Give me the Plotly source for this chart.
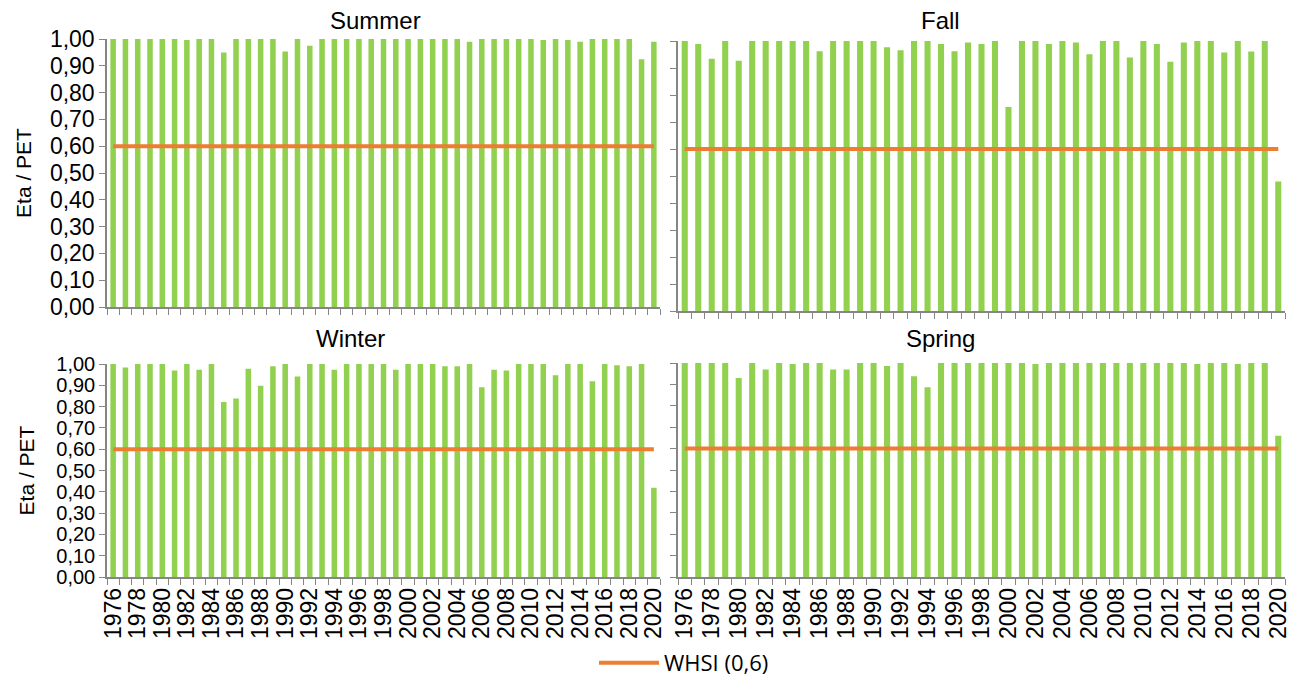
import plotly.graph_objects as go

# Seasonal Eta/PET ratio per year, 1976-2020
years = list(range(1976, 2021))

summer = [1.00, 1.00, 1.00, 1.00, 1.00, 1.00, 0.996, 1.00, 1.00, 0.95,
          1.00, 1.00, 1.00, 1.00, 0.953, 1.00, 0.975, 1.00, 1.00, 1.00,
          1.00, 1.00, 1.00, 1.00, 1.00, 1.00, 1.00, 1.00, 1.00, 0.99,
          1.00, 1.00, 1.00, 1.00, 1.00, 0.996, 1.00, 0.996, 0.99, 1.00,
          1.00, 1.00, 1.00, 0.924, 0.99]

fall = [1.00, 0.989, 0.934, 1.00, 0.927, 1.00, 1.00, 1.00, 1.00, 1.00,
        0.962, 1.00, 1.00, 1.00, 1.00, 0.977, 0.966, 1.00, 1.00, 0.989,
        0.962, 0.994, 0.989, 1.00, 0.756, 1.00, 1.00, 0.989, 1.00, 0.994,
        0.951, 1.00, 1.00, 0.939, 1.00, 0.989, 0.923, 0.994, 1.00, 1.00,
        0.957, 1.00, 0.961, 1.00, 0.48]

winter = [1.00, 0.984, 1.00, 1.00, 1.00, 0.969, 1.00, 0.973, 1.00, 0.822,
          0.838, 0.978, 0.898, 0.989, 1.00, 0.941, 1.00, 1.00, 0.973, 1.00,
          1.00, 1.00, 1.00, 0.973, 1.00, 1.00, 1.00, 0.989, 0.989, 1.00,
          0.891, 0.973, 0.969, 1.00, 1.00, 1.00, 0.947, 1.00, 1.00, 0.919,
          1.00, 0.994, 0.989, 1.00, 0.419]

spring = [1.00, 1.00, 1.00, 1.00, 0.93, 1.00, 0.97, 1.00, 0.995, 1.00,
          1.00, 0.97, 0.97, 1.00, 1.00, 0.986, 1.00, 0.938, 0.887, 1.00,
          1.00, 1.00, 1.00, 1.00, 1.00, 1.00, 0.995, 1.00, 1.00, 1.00,
          1.00, 1.00, 1.00, 1.00, 1.00, 1.00, 1.00, 1.00, 0.995, 1.00,
          1.00, 0.995, 1.00, 1.00, 0.66]

whsi = 0.6
whsi_label = "WHSI (0,6)"

seasons = ["Summer", "Fall", "Winter", "Spring"]
season_values = [summer, fall, winter, spring]

y_ticks = [0.0, 0.1, 0.2, 0.3, 0.4, 0.5, 0.6, 0.7, 0.8, 0.9, 1.0]
y_tick_labels = ["0,00", "0,10", "0,20", "0,30", "0,40", "0,50",
                 "0,60", "0,70", "0,80", "0,90", "1,00"]
x_tick_years = years[::2]
x_tick_labels = [str(y) for y in x_tick_years]

W, H = 1292, 680
BAR = "#92D050"
ORANGE = "#ED7D31"
AXIS = "#868686"
FONT = "Liberation Sans, Arial, sans-serif"

# panel boxes in pixels: (left, right, top, bottom)
panels = [(107, 660, 39, 307), (678, 1285, 41, 311),
          (107, 660, 364, 577), (678, 1285, 363, 577)]
title_pos = [(376, 20), (940, 20), (350, 338), (940, 338)]

fig = go.Figure()
layout = {}
for i, (name, vals) in enumerate(zip(seasons, season_values)):
    n = "" if i == 0 else str(i + 1)
    xa, ya = "x" + n, "y" + n
    fig.add_trace(go.Bar(x=years, y=vals, xaxis=xa, yaxis=ya,
                         marker=dict(color=BAR, line=dict(width=0)),
                         showlegend=False, name=name))
    fig.add_trace(go.Scatter(x=years, y=[whsi] * len(years), xaxis=xa, yaxis=ya,
                             mode="lines", line=dict(color=ORANGE, width=4),
                             name=whsi_label, showlegend=(i == 0)))
    l, r, t, b = panels[i]
    bottom_row = i >= 2
    left_col = i % 2 == 0
    layout["xaxis" + n] = dict(
        domain=[l / W, r / W], anchor=ya, range=[1975.5, 2020.5],
        automargin=False,
        showline=True, linecolor=AXIS, linewidth=1.5,
        tickmode="array", tickvals=x_tick_years, ticktext=x_tick_labels,
        ticks="", showticklabels=bottom_row, tickangle=-90,
        tickfont=dict(size=23, color="#000000"),
        minor=dict(tick0=1975.5, dtick=1, ticks="outside", ticklen=6,
                   tickcolor=AXIS, tickwidth=1.2),
        showgrid=False, zeroline=False, fixedrange=True,
    )
    layout["yaxis" + n] = dict(
        domain=[1 - b / H, 1 - t / H], anchor=xa, range=[0, 1.0],
        automargin=False,
        showline=True, linecolor=AXIS, linewidth=1.5,
        tickmode="array", tickvals=y_ticks, ticktext=y_tick_labels,
        ticks="outside", ticklen=6, tickcolor=AXIS, tickwidth=1.2,
        showticklabels=left_col,
        tickfont=dict(size=20 if bottom_row else 23, color="#000000"),
        title=dict(text="Eta / PET" if left_col else "",
                   font=dict(size=21, color="#000000"),
                   standoff=16 if bottom_row else 13),
        showgrid=False, zeroline=False, fixedrange=True,
    )

annotations = [dict(text=name, x=tx / W, y=1 - ty / H, xref="paper", yref="paper",
                    showarrow=False, xanchor="center", yanchor="middle",
                    font=dict(size=24, color="#000000"))
               for name, (tx, ty) in zip(seasons, title_pos)]

fig.update_layout(
    width=W, height=H,
    margin=dict(l=0, r=0, t=0, b=0, autoexpand=False),
    paper_bgcolor="white", plot_bgcolor="white",
    font=dict(family=FONT, color="#000000"),
    bargap=0.55,
    showlegend=True,
    legend=dict(x=594 / W, y=1 - 663 / H, xanchor="left", yanchor="middle",
                orientation="h",
                font=dict(family="Open Sans, sans-serif", size=22, color="#000000"),
                itemwidth=60, bgcolor="rgba(0,0,0,0)"),
    annotations=annotations,
    **layout,
)

fig.write_html("out.html")
